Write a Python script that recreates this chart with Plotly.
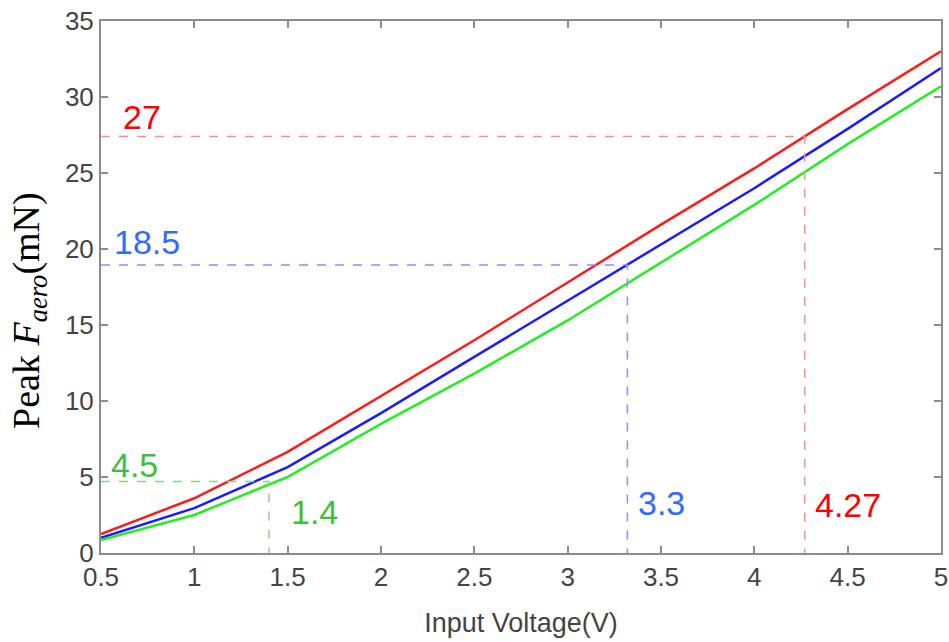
import plotly.graph_objects as go

voltage = [0.5, 1.0, 1.5, 2.0, 2.5, 3.0, 3.5, 4.0, 4.5, 5.0]
force_red = [1.25, 3.6, 6.65, 10.3, 14.0, 17.8, 21.6, 25.3, 29.2, 33.0]
force_blue = [1.0, 2.95, 5.65, 9.2, 12.9, 16.6, 20.3, 24.0, 27.9, 31.9]
force_green = [0.85, 2.5, 5.0, 8.5, 11.8, 15.3, 19.1, 22.9, 26.9, 30.7]

# reference markers: (voltage, force)
mark_red = (4.27, 27.4)
mark_blue = (3.32, 18.95)
mark_green = (1.4, 4.7)
xticks = [0.5, 1, 1.5, 2, 2.5, 3, 3.5, 4, 4.5, 5]
yticks = [0, 5, 10, 15, 20, 25, 30, 35]

fig = go.Figure()
for ys, c in [(force_red, "#ff1a1a"), (force_blue, "#1a1aff"), (force_green, "#22ee22")]:
    fig.add_trace(go.Scatter(x=voltage, y=ys, mode="lines",
                             line=dict(color=c, width=2.5), showlegend=False))

for (mx, my), c in [(mark_red, "#ff8c8c"), (mark_blue, "#8c8cff"), (mark_green, "#8fd08f")]:
    fig.add_trace(go.Scatter(x=[0.5, mx, mx], y=[my, my, 0], mode="lines",
                             line=dict(color=c, width=1.5, dash="dash"), showlegend=False))

ann = [
    ("27", 0.72, 28.7, "#ff0000"),
    ("18.5", 0.746, 20.45, "#2f6bff"),
    ("4.5", 0.68, 5.8, "#3cbf3c"),
    ("1.4", 1.646, 2.7, "#3cbf3c"),
    ("3.3", 3.505, 3.3, "#2f6bff"),
    ("4.27", 4.50, 3.15, "#ff0000"),
]
for t, x, y, c in ann:
    fig.add_annotation(x=x, y=y, text=t, showarrow=False,
                       font=dict(family="Liberation Sans, Arial", size=34, color=c))

fig.add_annotation(xref="paper", yref="paper", x=-0.0857, xanchor="center",
                   y=0.455, yanchor="middle",
                   text="Peak <i>F</i><sub><i>aero</i></sub>(mN)", textangle=-90,
                   showarrow=False,
                   font=dict(family="Liberation Serif, Times New Roman", size=38, color="#000000"))

axis_common = dict(showline=True, linecolor="#8c8c8c", linewidth=2, mirror="ticks",
                   ticks="inside", ticklen=7, tickcolor="#8c8c8c", tickwidth=1.5,
                   showgrid=False, zeroline=False, automargin=False,
                   tickfont=dict(family="Liberation Sans, Arial", size=26, color="#444444"))

fig.update_xaxes(range=[0.5, 5], tickvals=xticks, ticktext=[f"{v:g}" for v in xticks],
                 title=dict(text="Input Voltage(V)", standoff=22,
                            font=dict(family="Liberation Sans, Arial", size=27, color="#444444")),
                 **axis_common)
fig.update_yaxes(range=[0, 35], tickvals=yticks, **axis_common)

fig.update_layout(width=949, height=642, margin=dict(l=101, r=8, t=21, b=89),
                  paper_bgcolor="white", plot_bgcolor="white")

fig.write_html("out.html")
